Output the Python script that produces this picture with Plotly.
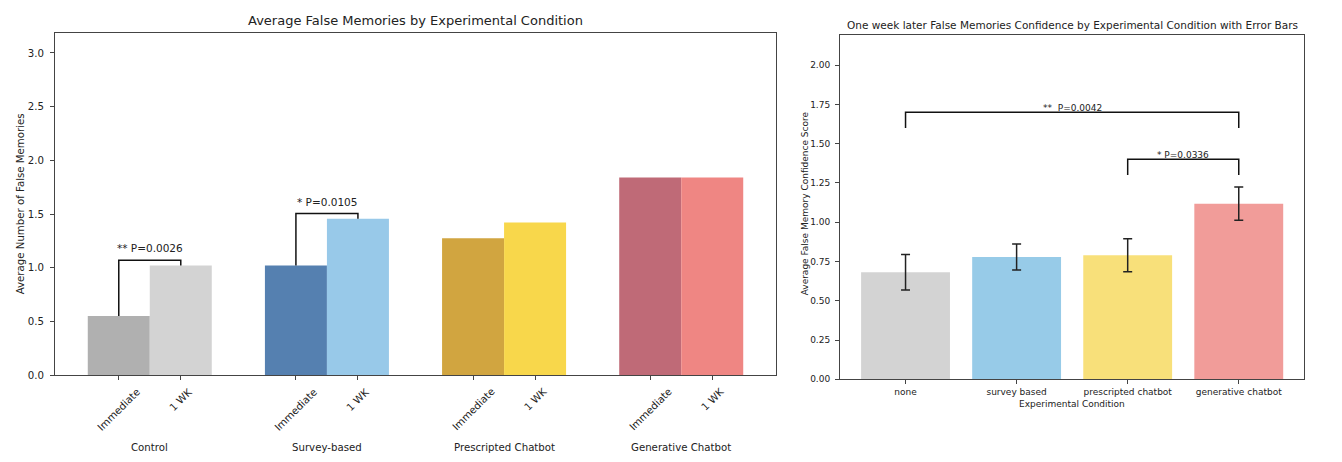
import plotly.graph_objects as go

# ---------------- data ----------------
groups = ["Control", "Survey-based", "Prescripted Chatbot", "Generative Chatbot"]
phase_labels = ["Immediate", "1 WK"]
immediate_vals = [0.55, 1.02, 1.275, 1.84]
week_vals = [1.02, 1.455, 1.42, 1.84]
immediate_colors = ["#b0b0b0", "#5580b0", "#d1a540", "#bf6a77"]
week_colors = ["#d3d3d3", "#98c9e9", "#f8d74b", "#ef8683"]
left_sig_groups = [0, 1]
left_sig_text = ["** P=0.0026", "* P=0.0105"]

conditions = ["none", "survey based", "prescripted chatbot", "generative chatbot"]
confidence = [0.682, 0.778, 0.79, 1.118]
confidence_err = [0.113, 0.083, 0.105, 0.106]
conf_colors = ["#d3d3d3", "#97cbe8", "#f8e07a", "#f19c99"]
right_sig_pairs = [(0, 3), (2, 3)]
right_sig_levels = [1.6, 1.3]
right_sig_text = ["**  P=0.0042", "* P=0.0336"]

# ---------------- layout constants ----------------
W, H = 1342, 462
FONT = "DejaVu Sans"
AX = "#444444"
BAR_W = 0.35

def px_x(p):
    return p / W

def px_y(p):
    return 1 - p / H

fig = go.Figure()

gx = list(range(len(groups)))
fig.add_trace(go.Bar(x=gx, y=immediate_vals, width=BAR_W, offset=-BAR_W,
                     marker=dict(color=immediate_colors, line=dict(width=0)),
                     xaxis="x", yaxis="y", showlegend=False, name="Immediate"))
fig.add_trace(go.Bar(x=gx, y=week_vals, width=BAR_W, offset=0,
                     marker=dict(color=week_colors, line=dict(width=0)),
                     xaxis="x", yaxis="y", showlegend=False, name="1 WK"))

cx = list(range(len(conditions)))
fig.add_trace(go.Bar(x=cx, y=confidence, width=0.8,
                     marker=dict(color=conf_colors, line=dict(width=0)),
                     error_y=dict(type="data", array=confidence_err, color="#222222",
                                  thickness=1.5, width=4.5),
                     xaxis="x2", yaxis="y2", showlegend=False))

shapes = []
annotations = []

# left brackets
for g, txt in zip(left_sig_groups, left_sig_text):
    a = immediate_vals[g]
    b = week_vals[g]
    top = max(a, b) + 0.05
    x0 = g - BAR_W / 2
    x1 = g + BAR_W / 2
    shapes.append(dict(type="path", xref="x", yref="y",
                       path=f"M {x0} {a} L {x0} {top} L {x1} {top} L {x1} {b}",
                       line=dict(color="#111111", width=1.5)))
    annotations.append(dict(x=g, y=top + 0.11, xref="x", yref="y", text=txt,
                            showarrow=False, font=dict(size=10.5, color="#222"),
                            xanchor="center", yanchor="middle"))

# left tick labels (rotated, centered on tick)
for g in gx:
    for k, lab in enumerate(phase_labels):
        xv = g - BAR_W / 2 + k * BAR_W
        annotations.append(dict(x=xv, y=px_y(388), xref="x", yref="paper", text=lab,
                                textangle=-45, showarrow=False,
                                font=dict(size=10.2, color="#222"),
                                xanchor="center", yanchor="top"))
    annotations.append(dict(x=g, y=px_y(453), xref="x", yref="paper", text=groups[g],
                            showarrow=False, font=dict(size=10.2, color="#222"),
                            xanchor="center", yanchor="middle"))

# right brackets
for (i, j), lvl, txt in zip(right_sig_pairs, right_sig_levels, right_sig_text):
    top = lvl + 0.1
    shapes.append(dict(type="path", xref="x2", yref="y2",
                       path=f"M {i} {lvl} L {i} {top} L {j} {top} L {j} {lvl}",
                       line=dict(color="#111111", width=1.5)))
    annotations.append(dict(x=(i + j) / 2, y=top + 0.03, xref="x2", yref="y2", text=txt,
                            showarrow=False, font=dict(size=9, color="#222"),
                            xanchor="center", yanchor="middle"))

# titles and axis labels
annotations += [
    dict(x=px_x(415.5), y=px_y(21), xref="paper", yref="paper",
         text="Average False Memories by Experimental Condition", showarrow=False,
         font=dict(size=13, color="#222"), xanchor="center", yanchor="middle"),
    dict(x=px_x(20), y=px_y(207), xref="paper", yref="paper",
         text="Average Number of False Memories", textangle=-90, showarrow=False,
         font=dict(size=10.2, color="#222"), xanchor="center", yanchor="middle"),
    dict(x=px_x(1072), y=px_y(25), xref="paper", yref="paper",
         text="One week later False Memories Confidence by Experimental Condition with Error Bars",
         showarrow=False, font=dict(size=10.5, color="#222"), xanchor="center", yanchor="middle"),
    dict(x=px_x(805), y=px_y(206), xref="paper", yref="paper",
         text="Average False Memory Confidence Score", textangle=-90, showarrow=False,
         font=dict(size=9, color="#222"), xanchor="center", yanchor="middle"),
    dict(x=px_x(1072), y=px_y(409), xref="paper", yref="paper",
         text="Experimental Condition", showarrow=False,
         font=dict(size=9, color="#222"), xanchor="center", yanchor="middle"),
]

axis_common = dict(showgrid=False, zeroline=False, showline=True, linecolor=AX,
                   linewidth=1, mirror=True, ticks="outside", ticklen=4,
                   tickcolor=AX, tickwidth=1)

left_ticks = [g - BAR_W / 2 + k * BAR_W for g in gx for k in range(2)]

fig.update_layout(
    width=W, height=H,
    margin=dict(l=0, r=0, t=0, b=0),
    paper_bgcolor="white", plot_bgcolor="white",
    barmode="overlay",
    font=dict(family=FONT, color="#222"),
    xaxis=dict(domain=[px_x(55), px_x(776)], range=[-0.535, 3.535],
               tickvals=left_ticks, showticklabels=False, anchor="y", **axis_common),
    yaxis=dict(domain=[px_y(380), px_y(33)], range=[0, 3.19],
               tickvals=[0, 0.5, 1.0, 1.5, 2.0, 2.5, 3.0],
               ticktext=["0.0", "0.5", "1.0", "1.5", "2.0", "2.5", "3.0"],
               ticklabelstandoff=4,
               tickfont=dict(size=10.2, color="#222"), anchor="x", **axis_common),
    xaxis2=dict(domain=[px_x(840), px_x(1304.3)], range=[-0.59, 3.59],
                tickvals=cx, ticktext=conditions,
                tickfont=dict(size=9, color="#222"), anchor="y2", **axis_common),
    yaxis2=dict(domain=[px_y(384.3), px_y(35.7)], range=[0, 2.19],
                tickvals=[0, 0.25, 0.5, 0.75, 1.0, 1.25, 1.5, 1.75, 2.0],
                ticktext=["0.00", "0.25", "0.50", "0.75", "1.00", "1.25", "1.50", "1.75", "2.00"],
                ticklabelstandoff=3,
                tickfont=dict(size=9, color="#222"), anchor="x2", **axis_common),
    shapes=shapes,
    annotations=annotations,
)

# remove the page's default body margin so the figure sits at the window origin
fig.write_html("out.html",
               config={"displayModeBar": False},
               post_script="document.body.style.margin='0';document.body.style.overflow='hidden';")
